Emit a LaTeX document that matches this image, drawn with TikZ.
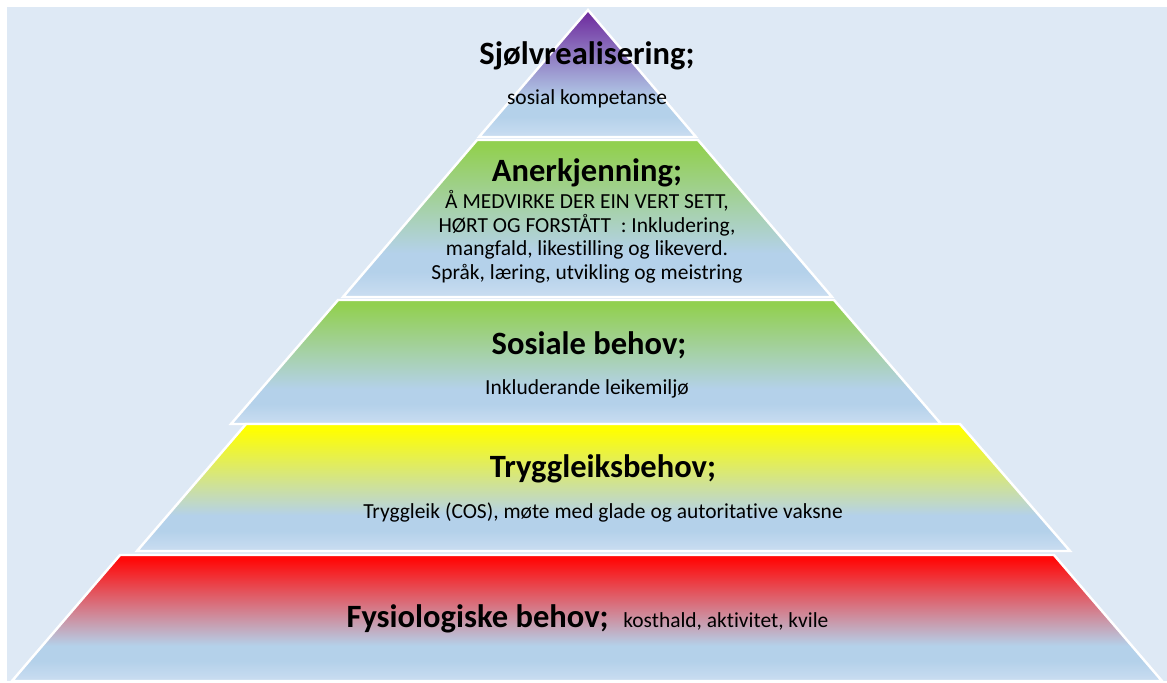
\documentclass[tikz,border=0pt]{standalone}
\usepackage{fontspec}
\setmainfont[Ligatures=NoCommon]{Carlito}
\definecolor{bgblue}{HTML}{DEE9F5}
\definecolor{lb}{HTML}{B4D1EA}
\definecolor{lbb}{HTML}{CADDF1}
\definecolor{cpurple}{HTML}{7030A0}
\definecolor{cgreen}{HTML}{92D050}
\definecolor{cyellow}{HTML}{FFFF00}
\definecolor{cred}{HTML}{FF0A0A}
\newcommand\mktiershade[2]{%
  \pgfdeclareverticalshading{#1}{100bp}{color(0bp)=(lbb); color(25bp)=(lbb); color(33bp)=(lb); color(39bp)=(lb); color(73bp)=(#2); color(100bp)=(#2)}}
\mktiershade{shpurple}{cpurple}
\mktiershade{shgreen}{cgreen}
\mktiershade{shyellow}{cyellow}
\mktiershade{shred}{cred}
\tikzset{
  tier/.style={draw=white, line width=0.7pt, line join=miter},
  ttl/.style={font=\fontsize{9.25}{11}\selectfont\bfseries, anchor=base, inner sep=0pt},
  body/.style={font=\fontsize{6.1}{6.7}\selectfont, anchor=base, inner sep=0pt, align=center},
}
\begin{document}
\begin{tikzpicture}[x=0.01cm, y=-0.01cm]
\useasboundingbox (0,0) rectangle (1167,682);
\fill[bgblue] (7,7) rectangle (1167,681);
% tiers
\shade[tier, shading=shpurple] (588,10) -- (696,137) -- (479,137) -- cycle;
\shade[tier, shading=shgreen] (477,140) -- (698,140) -- (832,297) -- (343,297) -- cycle;
\shade[tier, shading=shgreen] (338,300) -- (834,300) -- (941,424) -- (231,424) -- cycle;
\shade[tier, shading=shyellow] (246,424) -- (960,424) -- (1070,551) -- (137,551) -- cycle;
\shade[tier, shading=shred] (120,555) -- (1054,555) -- (1162,681) -- (12,681) -- cycle;
% texts
\node[ttl] (t1) at (587,65) {Sjølvrealisering;};
\node[body] (b1) at (587,105) {sosial kompetanse};
\node[ttl] (t2) at (587,182) {Anerkjenning;};
\node[body, anchor=center, font=\fontsize{6.1}{6.69}\selectfont] (b2) at (587,237) {Å MEDVIRKE DER EIN VERT SETT,\\HØRT OG FORSTÅTT\ \ : Inkludering,\\mangfald, likestilling og likeverd.\\Språk, læring, utvikling og meistring};
\node[ttl] (t3) at (589,354) {Sosiale behov;};
\node[body] (b3) at (587,394) {Inkluderande leikemiljø};
\node[ttl] (t4) at (603,477) {Tryggleiksbehov;};
\node[body] (b4) at (603,518) {Tryggleik (COS), møte med glade og autoritative vaksne};
\node[ttl, font=\fontsize{9.25}{11}\selectfont] (t5) at (587.5,627) {\bfseries Fysiologiske behov;\hspace{4.2pt}\fontsize{6.1}{6.7}\selectfont\mdseries kosthald, aktivitet, kvile};
\end{tikzpicture}
\end{document}
